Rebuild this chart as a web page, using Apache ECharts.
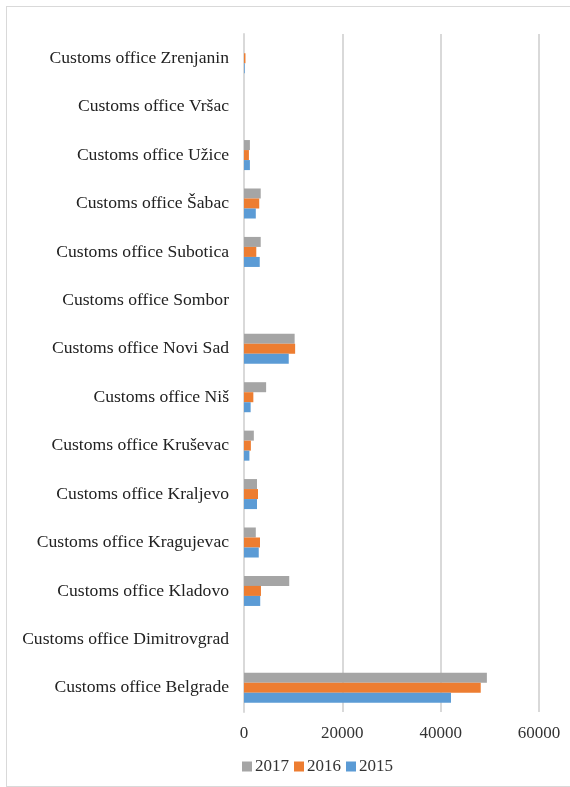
<!DOCTYPE html>
<html>
<head>
    <meta charset="utf-8">
    <title>Customs offices</title>
    <script src="https://cdn.jsdelivr.net/npm/echarts@6/dist/echarts.min.js"></script>
    <style>
        body { margin: 0; background: #fff; }
        #frame { position: absolute; left: 6px; top: 6px; width: 580px; height: 779px; border: 1px solid #d9d9d9; }
        #main { position: absolute; left: 0; top: 0; width: 570px; height: 787px; }
    </style>
</head>
<body>
<div id="frame"></div>
<div id="main"></div>
<script type="text/javascript">
    // categories bottom -> top
    var offices = ['Customs office Belgrade', 'Customs office Dimitrovgrad', 'Customs office Kladovo',
        'Customs office Kragujevac', 'Customs office Kraljevo', 'Customs office Kruševac',
        'Customs office Niš', 'Customs office Novi Sad', 'Customs office Sombor',
        'Customs office Subotica', 'Customs office Šabac', 'Customs office Užice',
        'Customs office Vršac', 'Customs office Zrenjanin'];
    var years = ['2017', '2016', '2015'];
    var data2015 = [42100, 0, 3300, 3000, 2650, 1100, 1350, 9100, 0, 3200, 2400, 1200, 0, 150];
    var data2016 = [48150, 0, 3450, 3250, 2850, 1400, 1900, 10400, 0, 2500, 3100, 1000, 0, 300];
    var data2017 = [49400, 0, 9200, 2400, 2650, 2000, 4500, 10300, 0, 3400, 3400, 1200, 0, 0];
    var xTicks = [0, 20000, 40000, 60000];
    var colors = ['#a5a5a5', '#ed7d31', '#5b9bd5'];

    var myChart = echarts.init(document.getElementById('main'));
    var font = 'Liberation Serif';
    // first series is drawn at the top of each group
    var values = [data2017, data2016, data2015];

    var series = years.map(function (y, i) {
        return {
            name: y,
            type: 'bar',
            data: values[i],
            itemStyle: { color: colors[i] },
            barGap: '0%',
            barCategoryGap: '38%',
            animation: false
        };
    });

    var option = {
        textStyle: { fontFamily: font },
        legend: {
            data: years,
            left: 237,
            top: 753,
            itemWidth: 10,
            itemHeight: 10,
            itemGap: 5,
            icon: 'rect',
            textStyle: { fontFamily: font, fontSize: 17, color: '#333', padding: [0, 0, 0, -2] }
        },
        grid: { left: 244, right: 31, top: 34, bottom: 75, containLabel: false },
        xAxis: {
            type: 'value',
            min: xTicks[0],
            max: xTicks[xTicks.length - 1],
            interval: 20000,
            axisLine: { show: false },
            axisTick: { show: false },
            splitLine: { lineStyle: { color: '#d9d9d9', width: 2 } },
            axisLabel: {
                fontFamily: font, fontSize: 17, color: '#333', margin: 13,
                formatter: function (v) { return String(v); }
            }
        },
        yAxis: {
            type: 'category',
            data: offices,
            axisLine: { show: true, lineStyle: { color: '#d9d9d9', width: 2 } },
            axisTick: { show: false },
            axisLabel: { fontFamily: font, fontSize: 17.6, color: '#222', margin: 15 }
        },
        series: series
    };
    myChart.setOption(option);
</script>
</body>
</html>
